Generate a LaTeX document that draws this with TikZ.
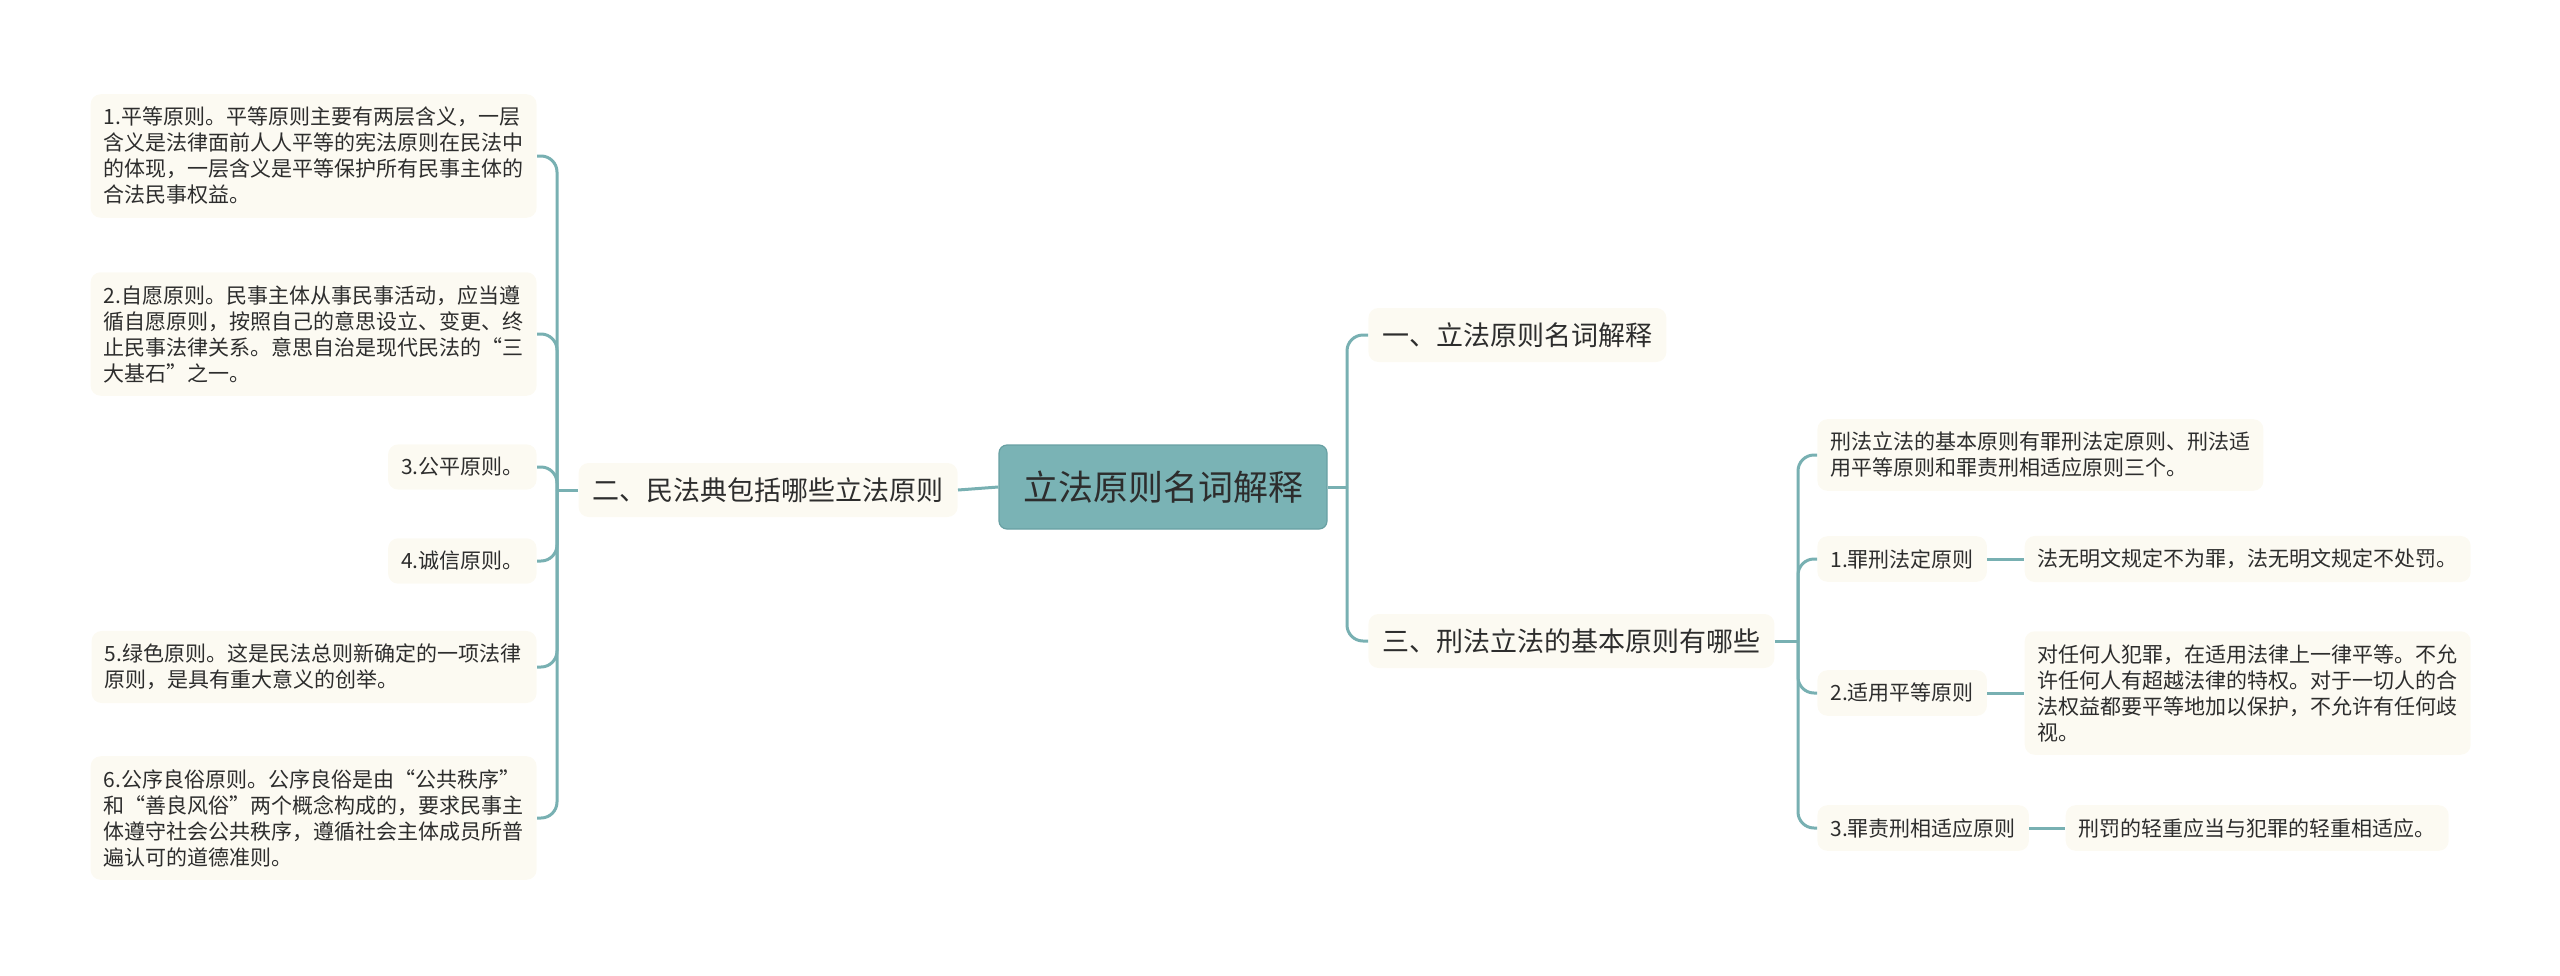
\documentclass[tikz,border=0pt]{standalone}
\usepackage{fontspec}
\setmainfont{Noto Sans CJK SC}
\usepackage{tikz}
\usetikzlibrary{positioning}
\definecolor{leafbg}{RGB}{252,250,242}
\definecolor{rootbg}{RGB}{122,179,181}
\definecolor{rootln}{RGB}{104,160,163}
\definecolor{linkc}{RGB}{120,176,178}
\definecolor{ink}{RGB}{45,45,45}
\tikzset{every node/.style={align=left, text=ink}}
\tikzset{link/.style={draw=linkc, line width=1.5pt, rounded corners=8pt}}
\tikzset{rootbox/.style={rectangle, fill=rootbg, draw=rootln, line width=0.6pt, rounded corners=4pt, minimum width=164pt, minimum height=42pt, font=\fontsize{17.5}{20}\selectfont}}
\tikzset{topic/.style={rectangle, fill=leafbg, rounded corners=5pt, inner xsep=7pt, minimum height=27pt, font=\fontsize{13.5}{16}\selectfont}}
\tikzset{leaf/.style={rectangle, fill=leafbg, rounded corners=5pt, inner xsep=6.5pt, inner ysep=6.5pt, font=\fontsize{10.5}{13}\selectfont}}
\tikzset{wideleaf/.style={leaf, text width=209.5pt}}

\begin{document}
\begin{tikzpicture}[x=0.5pt, y=-0.5pt]
  \useasboundingbox (0,0) rectangle (2560,975);

  % Root
  \node[rootbox] (root) at (1163,487) {立法原则名词解释};

  % Left branch
  \node[topic, anchor=east] (civil) at (958,490) {二、民法典包括哪些立法原则};
  \node[leaf, anchor=east] (leaf1) at (537,156) {1.平等原则。平等原则主要有两层含义，一层\\含义是法律面前人人平等的宪法原则在民法中\\的体现，一层含义是平等保护所有民事主体的\\合法民事权益。};
  \node[leaf, anchor=east] (leaf2) at (537,334) {2.自愿原则。民事主体从事民事活动，应当遵\\循自愿原则，按照自己的意思设立、变更、终\\止民事法律关系。意思自治是现代民法的“三\\大基石”之一。};
  \node[leaf, anchor=east] (leaf3) at (537,467) {3.公平原则。};
  \node[leaf, anchor=east] (leaf4) at (537,561) {4.诚信原则。};
  \node[wideleaf, anchor=east] (leaf5) at (537,667) {5.绿色原则。这是民法总则新确定的一项法律\\原则，是具有重大意义的创举。};
  \node[leaf, anchor=east] (leaf6) at (537,818) {6.公序良俗原则。公序良俗是由“公共秩序”\\和“善良风俗”两个概念构成的，要求民事主\\体遵守社会公共秩序，遵循社会主体成员所普\\遍认可的道德准则。};

  % Right branch
  \node[topic, anchor=west] (term) at (1368,335) {一、立法原则名词解释};
  \node[topic, anchor=west] (crim) at (1368,641) {三、刑法立法的基本原则有哪些};
  \node[leaf, anchor=west] (intro) at (1817,455) {刑法立法的基本原则有罪刑法定原则、刑法适\\用平等原则和罪责刑相适应原则三个。};
  \node[leaf, anchor=west] (sub1) at (1817,559) {1.罪刑法定原则};
  \node[leaf, anchor=west] (sub2) at (1817,693) {2.适用平等原则};
  \node[leaf, anchor=west] (sub3) at (1817,828) {3.罪责刑相适应原则};
  \node[leaf, right=18.5pt of sub1] (det1) {法无明文规定不为罪，法无明文规定不处罚。};
  \node[leaf, right=18.5pt of sub2] (det2) {对任何人犯罪，在适用法律上一律平等。不允\\许任何人有超越法律的特权。对于一切人的合\\法权益都要平等地加以保护，不允许有任何歧\\视。};
  \node[leaf, right=18pt of sub3] (det3) {刑罚的轻重应当与犯罪的轻重相适应。};

  % Connectors
  \coordinate (lhub) at (557,490);
  \coordinate (rhub) at (1347,487);
  \coordinate (shub) at (1798,641);
  \draw[link] (root.west) -- (civil.east);
  \draw[link] (civil.west) -- (lhub);
  \foreach \n in {1,...,6}
    \draw[link] (lhub) |- (leaf\n.east);
  \draw[link] (root.east) -- (rhub);
  \draw[link] (rhub) |- (term.west);
  \draw[link] (rhub) |- (crim.west);
  \draw[link] (crim.east) -- (shub);
  \foreach \s in {intro,sub1,sub2,sub3}
    \draw[link] (shub) |- (\s.west);
  \draw[link] (sub1.east) -- (det1.west);
  \draw[link] (sub2.east) -- (det2.west);
  \draw[link] (sub3.east) -- (det3.west);
\end{tikzpicture}
\end{document}
